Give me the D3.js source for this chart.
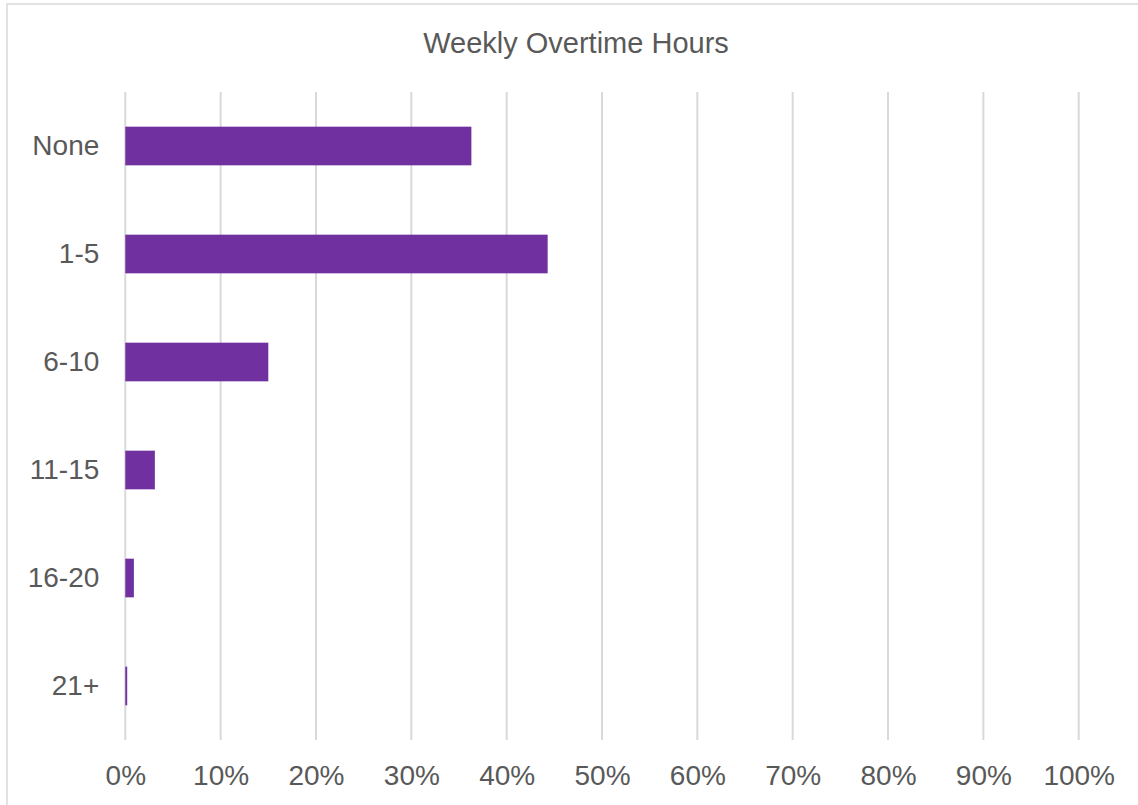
<!DOCTYPE html>
<html><head><meta charset="utf-8">
<script src="https://cdn.jsdelivr.net/npm/d3@7"></script>
<style>body{margin:0;background:#fff}svg{display:block}text{font-family:"Liberation Sans",Arial,sans-serif;fill:#595959}</style>
</head><body><svg id="c" width="1138" height="805"></svg>
<script>
const categories = ["None","1-5","6-10","11-15","16-20","21+"];
const values = [36.3, 44.3, 15.0, 3.1, 0.9, 0.2];
const xTicks = [0,10,20,30,40,50,60,70,80,90,100];
const title = "Weekly Overtime Hours";

const svg = d3.select("#c");
const W = 1138, H = 805;
const m = {left:125.3, right:1078.7, top:92, bottom:740};

svg.append("rect").attr("x",7).attr("y",4).attr("width",W).attr("height",H)
  .attr("fill","#fff").attr("stroke","#d9d9d9").attr("stroke-width",1.5);

const x = d3.scaleLinear().domain([0,100]).range([m.left,m.right]);
const y = d3.scaleBand().domain(categories).range([m.top,m.bottom]).paddingInner(0.642).paddingOuter(0.321);

svg.append("g").selectAll("line").data(xTicks).join("line")
  .attr("x1",d=>x(d)).attr("x2",d=>x(d)).attr("y1",m.top).attr("y2",m.bottom)
  .attr("stroke","#d9d9d9").attr("stroke-width",2);

svg.append("g").selectAll("rect").data(values).join("rect")
  .attr("x",x(0)).attr("y",(d,i)=>y(categories[i]))
  .attr("width",d=>x(d)-x(0)).attr("height",y.bandwidth())
  .attr("fill","#7030a0");

const xa = d3.axisBottom(x).tickValues(xTicks).tickFormat(d=>d+"%").tickSize(0).tickPadding(0);
const gx = svg.append("g").attr("transform",`translate(0,${m.bottom})`).call(xa);
gx.select(".domain").remove();
gx.selectAll("text").attr("y",44.5).attr("dy",null).style("font-size","28px").attr("fill","#595959");

const ya = d3.axisLeft(y).tickSize(0).tickPadding(26);
const gy = svg.append("g").attr("transform",`translate(${m.left},0)`).call(ya);
gy.select(".domain").remove();
gy.selectAll("text").attr("dy","0.33em").style("font-size","28px").attr("fill","#595959");

svg.append("text").attr("x",576).attr("y",52.5).attr("text-anchor","middle")
  .style("font-size","29px").text(title);
</script></body></html>
